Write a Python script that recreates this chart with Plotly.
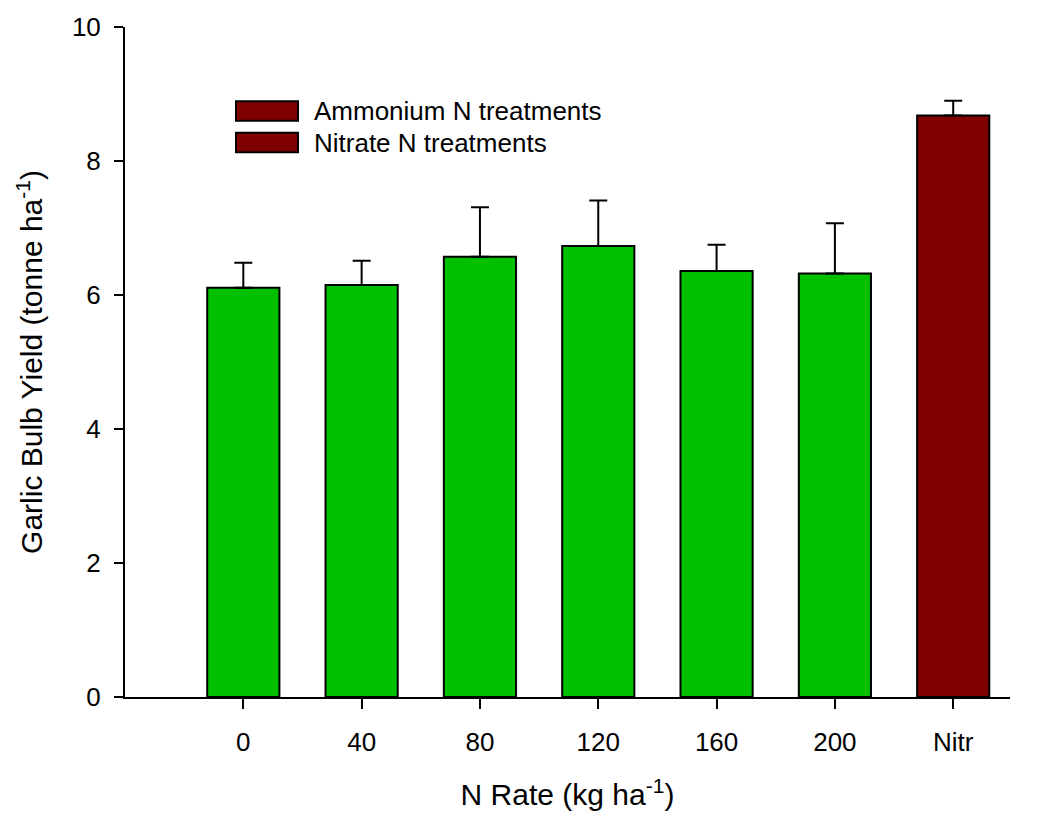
import plotly.graph_objects as go

# Garlic bulb yield by N rate
categories = ["0", "40", "80", "120", "160", "200", "Nitr"]
yield_mean = [6.11, 6.15, 6.57, 6.73, 6.36, 6.32, 8.68]
yield_err = [0.37, 0.36, 0.74, 0.68, 0.39, 0.75, 0.22]
treatment = ["Ammonium"] * 6 + ["Nitrate"]

legend_labels = ["Ammonium N treatments", "Nitrate N treatments"]

GREEN = "#00C000"
MAROON = "#800000"
FONT = "Arial, Liberation Sans, sans-serif"

bar_colors = [GREEN if t == "Ammonium" else MAROON for t in treatment]

fig = go.Figure()
fig.add_trace(go.Bar(
    x=categories,
    y=yield_mean,
    width=0.61,
    marker=dict(color=bar_colors, line=dict(color="black", width=2)),
    error_y=dict(type="data", array=yield_err, symmetric=False,
                 arrayminus=[0] * len(yield_err),
                 color="black", thickness=2, width=9),
    showlegend=False,
))

# Legend key: two wide swatches with labels
for i, label in enumerate(legend_labels):
    y_top = 0.889 - i * 0.047
    fig.add_shape(type="rect", xref="paper", yref="paper",
                  x0=0.1254, x1=0.1955, y0=y_top - 0.029, y1=y_top,
                  fillcolor=MAROON, line=dict(color="black", width=2))
    fig.add_annotation(xref="paper", yref="paper", x=0.211, y=y_top - 0.0145,
                       text=label, showarrow=False, xanchor="left",
                       yanchor="middle", font=dict(family=FONT, size=26, color="black"))

fig.update_layout(
    width=1058, height=818,
    margin=dict(l=125, r=48, t=24, b=121),
    paper_bgcolor="white", plot_bgcolor="white",
    font=dict(family=FONT, color="black"),
    bargap=0.39,
)
fig.update_xaxes(
    type="category",
    range=[-1.0, 6.48],
    showline=True, linecolor="black", linewidth=2,
    ticks="outside", ticklen=10, tickwidth=2, tickcolor="black",
    ticklabelstandoff=11,
    tickfont=dict(family=FONT, size=26),
    showgrid=False, zeroline=False,
    title=dict(text="N Rate (kg ha<sup>-1</sup>)", font=dict(family=FONT, size=30), standoff=28),
)
fig.update_yaxes(
    range=[0, 10],
    tickvals=[0, 2, 4, 6, 8, 10],
    showline=True, linecolor="black", linewidth=2,
    ticks="outside", ticklen=9, tickwidth=2, tickcolor="black",
    ticklabelstandoff=8,
    tickfont=dict(family=FONT, size=26),
    showgrid=False, zeroline=False,
    title=dict(text="Garlic Bulb Yield (tonne ha<sup>-1</sup>)", font=dict(family=FONT, size=30), standoff=20),
)

fig.write_html("out.html")
